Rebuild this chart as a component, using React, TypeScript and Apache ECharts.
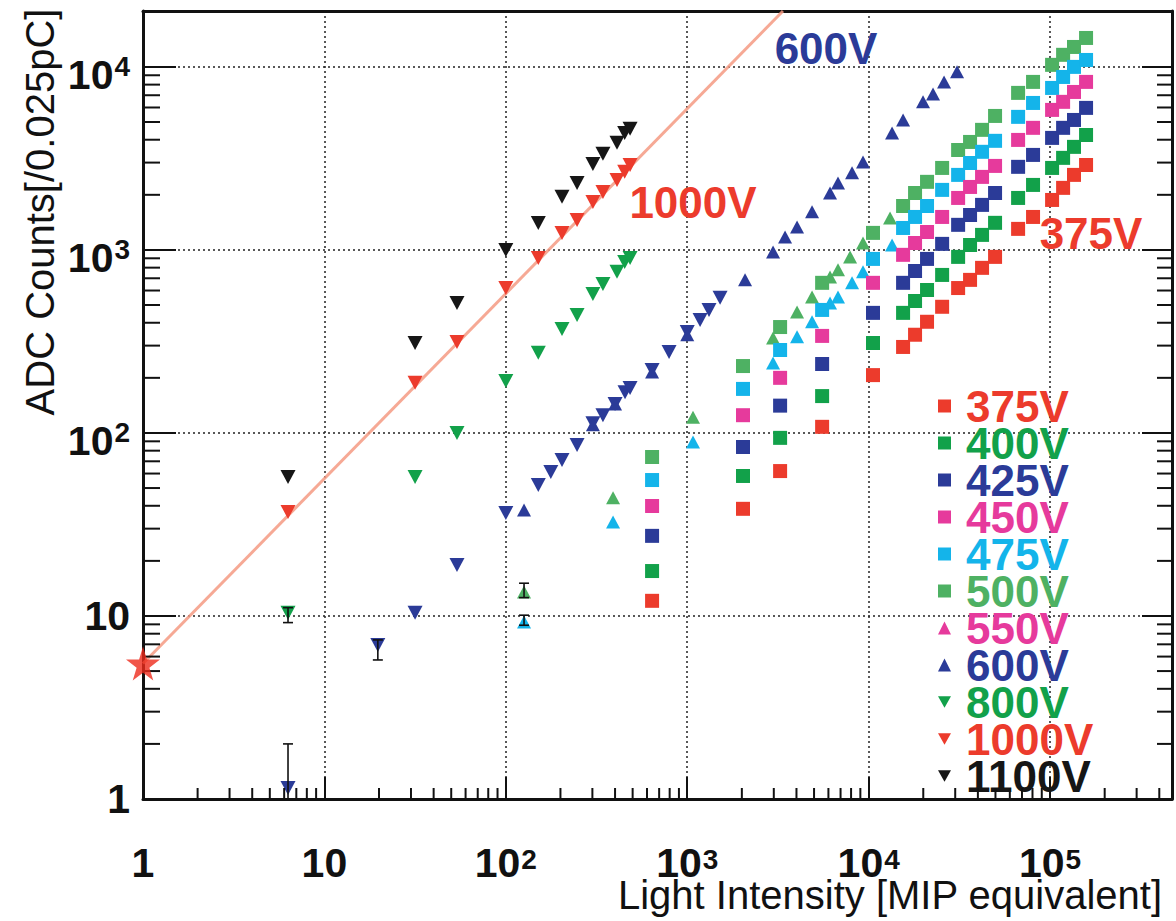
import React, { useEffect, useRef } from "react";
import * as echarts from "echarts";

// ---------- axis ranges ----------
const X_MIN = 1;
const X_MAX = 470000;
const Y_MIN = 1;
const Y_MAX = 20200;

// ---------- square series (375V - 500V), shared light intensities ----------
const SQ_X = [640, 2030, 3250, 5540, 10570, 15480, 18020, 20980, 25410, 31130, 36220, 42180, 49750, 66650, 80570, 102600, 118000, 135500, 157900];
const V375 = [12.1, 38.5, 61.9, 108, 207, 295, 344, 405, 489, 619, 686, 798, 916, 1303, 1514, 1875, 2183, 2570, 2911];
const V400 = [17.6, 58.2, 94, 159, 310, 453, 526, 604, 730, 916, 1064, 1208, 1406, 1923, 2265, 2805, 3184, 3656, 4246];
const V425 = [27.4, 83.8, 141, 238, 453, 661, 767, 893, 1079, 1371, 1552, 1762, 2046, 2844, 3304, 4093, 4645, 5129, 5970];
const V450 = [39.9, 125, 200, 339, 661, 940, 1091, 1253, 1514, 1923, 2208, 2506, 2877, 3990, 4645, 5821, 6442, 7295, 8279];
const V475 = [55.3, 174, 284, 470, 893, 1318, 1514, 1738, 2128, 2570, 2985, 3436, 3945, 5333, 6353, 7674, 8810, 10000, 10910];
const V500 = [73.9, 232, 379, 661, 1239, 1738, 2046, 2355, 2805, 3516, 3890, 4529, 5395, 7211, 8279, 10260, 11640, 12850, 14390];

// ---------- triangle-down series (800V - 1100V) ----------
const TD_X = [6.3, 31.6, 53.8, 100, 151, 204, 247, 302, 343, 410, 452, 484];
const V800 = [10.4, 57.5, 100, 192, 274, 370, 441, 575, 652, 759, 860, 904];
const V1000 = [37, 188, 314, 620, 904, 1239, 1459, 1829, 2075, 2413, 2670, 2913];
const V1100 = [57.5, 310, 513, 1000, 1405, 1950, 2323, 2950, 3350, 3845, 4355, 4585];

// ---------- blue triangle-down points (not in legend) ----------
const BD_X = [6.3, 19.7, 31.6, 53.8, 100, 151, 177, 204, 247, 302, 343, 400, 454, 484, 640, 794, 1000, 1177, 1318, 1517];
const BD_Y = [1.15, 6.94, 10.4, 19.0, 36.5, 52.0, 61.2, 71.2, 86.0, 113, 125, 144, 167, 176, 221, 277, 356, 414, 470, 547];

// ---------- 600V triangle-up ----------
const U600_X = [126, 302, 400, 640, 1000, 2083, 2972, 3461, 4030, 4875, 6125, 6777, 8100, 9310, 13460, 15480, 19940, 22640, 26040, 30710];
const U600_Y = [37.9, 111, 144, 215, 344, 686, 975, 1178, 1336, 1614, 2046, 2323, 2636, 3027, 4355, 5129, 6442, 7120, 8279, 9393];

// ---------- extra triangle-up points (light green, cyan) ----------
const LG_X = [126, 390, 1076, 2972, 4030, 4875, 6125, 6777, 7900, 9310, 13120];
const LG_Y = [13.5, 44.2, 122, 330, 458, 553, 712, 778, 916, 1091, 1496];
const CY_X = [126, 390, 1076, 2972, 4030, 4875, 6125, 6777, 8100, 9310, 13460];
const CY_Y = [9.27, 32.6, 89.3, 241, 335, 405, 513, 553, 661, 759, 1064];

// ---------- error bars [x, low, high] ----------
const ERR_X = [6.3, 6.3, 19.7, 126, 126];
const ERR_LO = [9.2, 0.5, 5.75, 12.6, 8.9];
const ERR_HI = [11.1, 2.0, 7.4, 15.1, 10.1];

// ---------- fit line and star ----------
const FIT_X = [1, 3370];
const FIT_Y = [5.5, 20200];
const STAR = [1, 5.5];

// ---------- minor tick values ----------
const MINOR_X = [2, 3, 4, 5, 6, 7, 8, 9, 20, 30, 40, 50, 60, 70, 80, 90, 200, 300, 400, 500, 600, 700, 800, 900, 2000, 3000, 4000, 5000, 6000, 7000, 8000, 9000, 20000, 30000, 40000, 50000, 60000, 70000, 80000, 90000, 200000, 300000, 400000];
const MINOR_Y = [2, 3, 4, 5, 6, 7, 8, 9, 20, 30, 40, 50, 60, 70, 80, 90, 200, 300, 400, 500, 600, 700, 800, 900, 2000, 3000, 4000, 5000, 6000, 7000, 8000, 9000];

const LEGEND_NAMES = ["375V", "400V", "425V", "450V", "475V", "500V", "550V", "600V", "800V", "1000V", "1100V"];

const RED = "#ec3b2c";
const GREEN = "#12a14a";
const BLUE = "#2b3b98";
const MAGENTA = "#e63a9c";
const CYAN = "#14b4ea";
const LGREEN = "#4eb163";
const BLACK = "#161616";

const FONT = "'Liberation Sans', Arial, Helvetica, sans-serif";
const NARROW = "'Liberation Sans Narrow', 'Liberation Sans', Arial, sans-serif";

const TRI_DOWN = "path://M0,0L10,0L5,9Z";
const STAR_PATH = "path://M50,0L61,35L98,35L68,57L79,91L50,70L21,91L32,57L2,35L39,35Z";

const zip = (xs: number[], ys: number[]) => xs.map((x, i) => [x, ys[i]]);

const fmtLog = (v: number) => {
  const l = Math.log10(v);
  const e = Math.round(l);
  if (Math.abs(l - e) > 1e-6) return "";
  if (e === 0) return "{b|1}";
  if (e === 1) return "{b|10}";
  return `{n|10}{s|${e}}`;
};

const richX = {
  b: { fontSize: 41, fontWeight: "bold", fontFamily: FONT, color: "#111", lineHeight: 36 },
  n: { fontSize: 41, fontWeight: "bold", fontFamily: NARROW, color: "#111", lineHeight: 36 },
  s: { fontSize: 28, fontWeight: "bold", fontFamily: FONT, color: "#111", lineHeight: 24, padding: [0, 0, 0, 1], verticalAlign: "top" },
};
const richY = {
  b: { fontSize: 41, fontWeight: "bold", fontFamily: FONT, color: "#111", lineHeight: 44 },
  n: { fontSize: 41, fontWeight: "bold", fontFamily: NARROW, color: "#111", lineHeight: 44, padding: [16, 0, 0, 0] },
  s: { fontSize: 28, fontWeight: "bold", fontFamily: FONT, color: "#111", lineHeight: 28, padding: [8, 0, 0, 1], verticalAlign: "top" },
};

function scatter(name: string, xs: number[], ys: number[], color: string, symbol: string, size: any, z = 3) {
  return {
    type: "scatter",
    name,
    data: zip(xs, ys),
    symbol,
    symbolSize: size,
    itemStyle: { color, opacity: 1 },
    z,
    silent: true,
  };
}

function buildOption() {
  const legendColor: Record<string, string> = {
    "375V": RED, "400V": GREEN, "425V": BLUE, "450V": MAGENTA, "475V": CYAN, "500V": LGREEN,
    "550V": MAGENTA, "600V": BLUE, "800V": GREEN, "1000V": RED, "1100V": BLACK,
  };
  const legendIcon: Record<string, string> = {
    "375V": "rect", "400V": "rect", "425V": "rect", "450V": "rect", "475V": "rect", "500V": "rect",
    "550V": "triangle", "600V": "triangle", "800V": TRI_DOWN, "1000V": TRI_DOWN, "1100V": TRI_DOWN,
  };

  const minorTicks = {
    type: "custom",
    silent: true,
    clip: false,
    z: 5,
    data: [
      ...MINOR_X.map((v) => [v, Y_MIN, 0]),
      ...MINOR_Y.map((v) => [X_MIN, v, 1]),
    ],
    encode: { x: 0, y: 1 },
    renderItem: (params: any, api: any) => {
      const cs = params.coordSys;
      const kind = api.value(2);
      const p = api.coord([api.value(0), api.value(1)]);
      const st = { stroke: "#111", lineWidth: 2 };
      if (kind === 0) {
        const yb = cs.y + cs.height;
        return { type: "line", shape: { x1: p[0], y1: yb, x2: p[0], y2: yb - 11 }, style: st };
      }
      const xr = cs.x + cs.width;
      return {
        type: "group",
        children: [
          { type: "line", shape: { x1: cs.x, y1: p[1], x2: cs.x + 17, y2: p[1] }, style: st },
          { type: "line", shape: { x1: xr, y1: p[1], x2: xr - 15, y2: p[1] }, style: st },
        ],
      };
    },
  };

  const errorBars = {
    type: "custom",
    silent: true,
    clip: true,
    z: 4,
    data: ERR_X.map((x, i) => [x, ERR_LO[i], ERR_HI[i]]),
    encode: { x: 0, y: [1, 2] },
    renderItem: (params: any, api: any) => {
      const x = api.value(0);
      const lo = api.coord([x, api.value(1)]);
      const hi = api.coord([x, api.value(2)]);
      const st = { stroke: "#111", lineWidth: 1.6 };
      return {
        type: "group",
        children: [
          { type: "line", shape: { x1: lo[0], y1: lo[1], x2: hi[0], y2: hi[1] }, style: st },
          { type: "line", shape: { x1: lo[0] - 5, y1: lo[1], x2: lo[0] + 5, y2: lo[1] }, style: st },
          { type: "line", shape: { x1: hi[0] - 5, y1: hi[1], x2: hi[0] + 5, y2: hi[1] }, style: st },
        ],
      };
    },
  };

  const splitStyle = { color: "#222", width: 1.5, type: [2, 3] };

  return {
    animation: false,
    backgroundColor: "#ffffff",
    grid: { left: 143, right: 4, top: 11, bottom: 122, containLabel: false, outerBoundsMode: "none" },
    xAxis: [
      {
        type: "log",
        logBase: 10,
        min: X_MIN,
        max: X_MAX,
        position: "bottom",
        axisLine: { show: true, onZero: false, lineStyle: { color: "#111", width: 3 } },
        axisTick: { show: true, inside: true, length: 22, lineStyle: { color: "#111", width: 2 } },
        minorTick: { show: false },
        axisLabel: { show: true, formatter: fmtLog, rich: richX, margin: 46, hideOverlap: false },
        splitLine: { show: true, lineStyle: splitStyle },
      },
      {
        type: "log",
        logBase: 10,
        min: X_MIN,
        max: X_MAX,
        position: "top",
        axisLine: { show: true, onZero: false, lineStyle: { color: "#111", width: 3 } },
        axisTick: { show: false },
        axisLabel: { show: false },
        splitLine: { show: false },
      },
    ],
    yAxis: [
      {
        type: "log",
        logBase: 10,
        min: Y_MIN,
        max: Y_MAX,
        position: "left",
        axisLine: { show: true, onZero: false, lineStyle: { color: "#111", width: 3 } },
        axisTick: { show: true, inside: true, length: 33, lineStyle: { color: "#111", width: 2 } },
        minorTick: { show: false },
        axisLabel: { show: true, formatter: fmtLog, rich: richY, margin: 13, hideOverlap: false },
        splitLine: { show: true, lineStyle: splitStyle },
      },
      {
        type: "log",
        logBase: 10,
        min: Y_MIN,
        max: Y_MAX,
        position: "right",
        axisLine: { show: true, onZero: false, lineStyle: { color: "#111", width: 3 } },
        axisTick: { show: true, inside: true, length: 30, lineStyle: { color: "#111", width: 2 } },
        axisLabel: { show: false },
        splitLine: { show: false },
      },
    ],
    legend: {
      orient: "vertical",
      left: 933,
      top: 379,
      itemGap: -7,
      itemWidth: 13,
      itemHeight: 13,
      selectedMode: false,
      textStyle: { fontSize: 44, fontWeight: "bold", fontFamily: FONT, lineHeight: 37, padding: [0, 0, 0, 10] },
      data: LEGEND_NAMES.map((n) => ({ name: n, icon: legendIcon[n], textStyle: { color: legendColor[n] } })),
    },
    graphic: [
      {
        type: "text",
        x: 40,
        y: 212,
        rotation: Math.PI / 2,
        style: { text: "ADC Counts[/0.025pC]", fill: "#111", fontSize: 40, fontFamily: FONT, align: "center", verticalAlign: "middle", textAlign: "center", textVerticalAlign: "middle" },
      },
      {
        type: "text",
        x: 1162,
        y: 895,
        style: { text: "Light Intensity [MIP equivalent]", fill: "#111", fontSize: 40, lineHeight: 28, fontFamily: FONT, align: "right", verticalAlign: "middle", textAlign: "right", textVerticalAlign: "middle" },
      },
      {
        type: "text",
        x: 826,
        y: 48,
        z: 20,
        style: { text: "600V", fill: BLUE, fontSize: 44, fontWeight: "bold", fontFamily: FONT, align: "center", verticalAlign: "middle", textAlign: "center", textVerticalAlign: "middle" },
      },
      {
        type: "text",
        x: 693,
        y: 202,
        z: 20,
        style: { text: "1000V", fill: RED, fontSize: 44, fontWeight: "bold", fontFamily: FONT, align: "center", verticalAlign: "middle", textAlign: "center", textVerticalAlign: "middle" },
      },
      {
        type: "text",
        x: 1091,
        y: 233,
        z: 20,
        style: { text: "375V", fill: RED, fontSize: 44, fontWeight: "bold", fontFamily: FONT, align: "center", verticalAlign: "middle", textAlign: "center", textVerticalAlign: "middle" },
      },
    ],
    series: [
      {
        type: "line",
        name: "fit",
        data: zip(FIT_X, FIT_Y),
        showSymbol: false,
        symbol: "none",
        silent: true,
        z: 2,
        lineStyle: { color: "#f49a82", width: 3, opacity: 0.85 },
      },
      minorTicks,
      errorBars,
      scatter("600V-down", BD_X, BD_Y, BLUE, TRI_DOWN, [15, 14]),
      scatter("500V-up", LG_X, LG_Y, LGREEN, "triangle", [14, 13]),
      scatter("475V-up", CY_X, CY_Y, CYAN, "triangle", [14, 13]),
      scatter("550V", [], [], MAGENTA, "triangle", [14, 13]),
      scatter("600V", U600_X, U600_Y, BLUE, "triangle", [14, 13]),
      scatter("1100V", TD_X, V1100, BLACK, TRI_DOWN, [15, 14]),
      scatter("1000V", TD_X, V1000, RED, TRI_DOWN, [15, 14]),
      scatter("800V", TD_X, V800, GREEN, TRI_DOWN, [15, 14]),
      scatter("500V", SQ_X, V500, LGREEN, "rect", 14),
      scatter("475V", SQ_X, V475, CYAN, "rect", 14),
      scatter("450V", SQ_X, V450, MAGENTA, "rect", 14),
      scatter("425V", SQ_X, V425, BLUE, "rect", 14),
      scatter("400V", SQ_X, V400, GREEN, "rect", 14),
      scatter("375V", SQ_X, V375, RED, "rect", 14),
      {
        type: "scatter",
        name: "star",
        data: [STAR],
        symbol: STAR_PATH,
        symbolSize: 34,
        clip: false,
        silent: true,
        z: 10,
        itemStyle: { color: "#ee2a1c" },
      },
    ],
  };
}

export default function App() {
  const ref = useRef<HTMLDivElement>(null);
  useEffect(() => {
    if (!ref.current) return;
    const chart = echarts.init(ref.current, null, { renderer: "svg" });
    chart.setOption(buildOption() as any);
    return () => chart.dispose();
  }, []);
  return (
    <div
      ref={ref}
      style={{ position: "fixed", left: 0, top: 0, width: 1176, height: 921, background: "#fff" }}
    />
  );
}
